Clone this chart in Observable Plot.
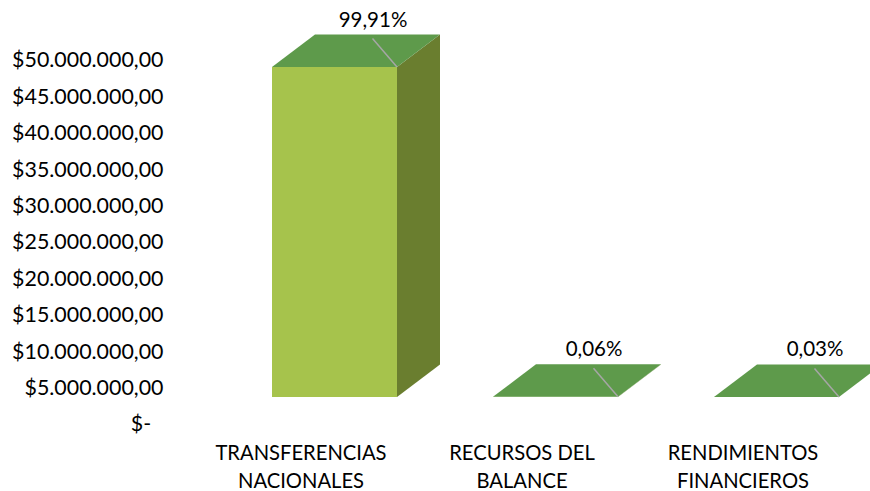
<!DOCTYPE html>
<html><head><meta charset="utf-8">
<script src="https://cdn.jsdelivr.net/npm/d3@7"></script>
<script src="https://cdn.jsdelivr.net/npm/@observablehq/plot@0.6"></script>
<style>body{margin:0;background:#fff}</style>
</head><body><div id="chart"></div>
<script>
const categories = ["TRANSFERENCIAS\nNACIONALES", "RECURSOS DEL\nBALANCE", "RENDIMIENTOS\nFINANCIEROS"];
const values = [45330000, 27200, 13600];
const percentLabels = ["99,91%", "0,06%", "0,03%"];
const yTicks = [0, 5e6, 10e6, 15e6, 20e6, 25e6, 30e6, 35e6, 40e6, 45e6, 50e6];

const data = categories.map((c, i) => ({category: c, value: values[i], pct: percentLabels[i]}));

const locale = d3.formatLocale({decimal: ",", thousands: ".", grouping: [3], currency: ["$", ""]});
const money = locale.format("$,.2f");
const fmt = v => v === 0 ? "$-\u2007" : money(v);

const FRONT = "#A6C34C", TOP = "#5E9A4B", SIDE = "#6A7E2F", LEADER = "#A6A6A6";
const LIFT = -27;           // front face offset (px)
const DEPTH = [43, -32.5];  // 3D depth offset (px)

const plot = Plot.plot({
  width: 870, height: 491,
  marginLeft: 166, marginRight: 0, marginTop: 60, marginBottom: 67,
  style: {fontFamily: "Lato, sans-serif", fontSize: "20px", color: "#000", background: "#fff"},
  x: {type: "band", domain: categories, range: [176, 936], padding: 0.433, label: null},
  y: {domain: [0, 50e6], label: null},
  marks: [
    Plot.axisY({ticks: yTicks, tickFormat: fmt, tickSize: 0, tickPadding: 3, fontSize: 21.4, label: null}),
    Plot.axisX({tickSize: 0, tickPadding: 15, fontSize: 20.2, lineHeight: 1.4, dx: -34, label: null}),
    Plot.barY(data, {x: "category", y: "value", fill: FRONT, dy: LIFT}),
    Plot.text(data, {x: "category", y: "value", text: "pct", dx: 38, dy: LIFT + DEPTH[1] - 15, fontSize: 20.5, fill: "#000"})
  ]
});

// 3D faces through the plot's own scales
const sx = plot.scale("x"), sy = plot.scale("y");
const svg = d3.select(plot.tagName.toLowerCase() === "svg" ? plot : plot.querySelector("svg"));
const g = svg.append("g");
const [ddx, ddy] = DEPTH;
data.forEach(d => {
  const x1 = sx.apply(d.category), x2 = x1 + sx.bandwidth;
  const yT = sy.apply(d.value) + LIFT, yB = sy.apply(0) + LIFT;
  // side face
  g.append("polygon").attr("fill", SIDE)
    .attr("points", [[x2, yT], [x2 + ddx, yT + ddy], [x2 + ddx, yB + ddy], [x2, yB]].join(" "));
  // top face
  g.append("polygon").attr("fill", TOP)
    .attr("points", [[x1, yT], [x2, yT], [x2 + ddx, yT + ddy], [x1 + ddx, yT + ddy]].join(" "));
  // leader line
  const cx = x1 + sx.bandwidth / 2 + 38;
  g.append("line").attr("stroke", LEADER).attr("stroke-width", 1.5)
    .attr("x1", x2).attr("y1", yT).attr("x2", cx).attr("y2", yT + ddy + 4);
});
document.getElementById("chart").append(plot);
</script>
</body></html>
